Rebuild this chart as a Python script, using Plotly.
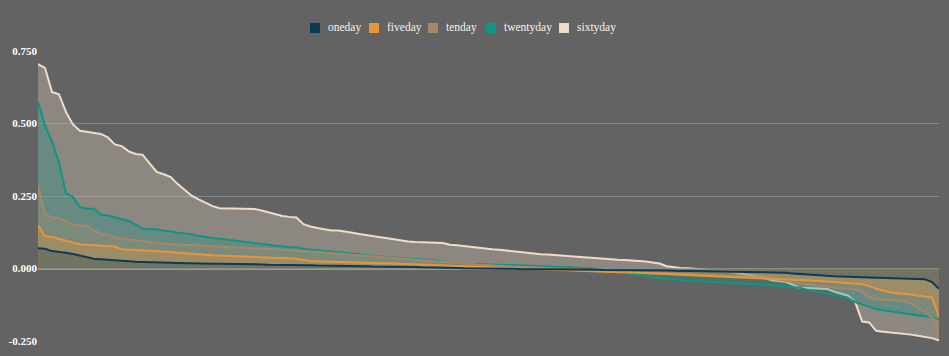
import plotly.graph_objects as go

series_names = ["oneday", "fiveday", "tenday", "twentyday", "sixtyday"]

oneday = [0.070, 0.068, 0.060, 0.058, 0.054, 0.050, 0.045, 0.040, 0.034, 0.032,
          0.030, 0.027, 0.026, 0.025, 0.023, 0.022, 0.022, 0.021, 0.021, 0.020,
          0.019, 0.018, 0.017, 0.017, 0.017, 0.016, 0.016, 0.016, 0.015, 0.015,
          0.014, 0.014, 0.014, 0.013, 0.013, 0.012, 0.012, 0.012, 0.011, 0.011,
          0.010, 0.010, 0.010, 0.009, 0.009, 0.009, 0.008, 0.008, 0.007, 0.007,
          0.007, 0.006, 0.006, 0.005, 0.005, 0.004, 0.004, 0.003, 0.003, 0.002,
          0.002, 0.001, 0.001, 0.001, 0.000, 0.000, -0.001, -0.001, -0.001, -0.002,
          -0.002, -0.002, -0.002, -0.003, -0.003, -0.003, -0.003, -0.004, -0.004, -0.004,
          -0.004, -0.005, -0.005, -0.005, -0.005, -0.005, -0.006, -0.006, -0.006, -0.007,
          -0.007, -0.008, -0.008, -0.009, -0.009, -0.009, -0.010, -0.010, -0.010, -0.011,
          -0.011, -0.012, -0.012, -0.013, -0.013, -0.014, -0.014, -0.015, -0.017, -0.019,
          -0.021, -0.022, -0.024, -0.026, -0.027, -0.028, -0.028, -0.029, -0.030, -0.031,
          -0.032, -0.033, -0.034, -0.035, -0.035, -0.036, -0.036, -0.037, -0.047, -0.070]

fiveday = [0.149, 0.111, 0.109, 0.103, 0.096, 0.090, 0.083, 0.082, 0.081, 0.080,
           0.078, 0.076, 0.066, 0.065, 0.064, 0.063, 0.062, 0.060, 0.059, 0.057,
           0.054, 0.052, 0.050, 0.049, 0.047, 0.046, 0.045, 0.044, 0.042, 0.041,
           0.039, 0.038, 0.037, 0.036, 0.035, 0.034, 0.034, 0.034, 0.030, 0.026,
           0.025, 0.024, 0.024, 0.023, 0.022, 0.021, 0.021, 0.020, 0.019, 0.018,
           0.018, 0.017, 0.016, 0.015, 0.015, 0.014, 0.013, 0.012, 0.011, 0.010,
           0.009, 0.009, 0.008, 0.007, 0.006, 0.005, 0.004, 0.003, 0.002, 0.001,
           0.000, -0.002, -0.004, -0.005, -0.006, -0.007, -0.008, -0.009, -0.010, -0.011,
           -0.012, -0.012, -0.013, -0.013, -0.013, -0.014, -0.015, -0.016, -0.017, -0.018,
           -0.019, -0.020, -0.021, -0.022, -0.023, -0.024, -0.025, -0.026, -0.027, -0.028,
           -0.029, -0.030, -0.031, -0.032, -0.033, -0.035, -0.036, -0.037, -0.038, -0.039,
           -0.040, -0.041, -0.043, -0.045, -0.047, -0.049, -0.050, -0.052, -0.054, -0.060,
           -0.070, -0.076, -0.082, -0.085, -0.087, -0.090, -0.094, -0.097, -0.100, -0.168]

tenday = [0.287, 0.186, 0.177, 0.172, 0.164, 0.152, 0.149, 0.147, 0.131, 0.120,
          0.116, 0.108, 0.103, 0.101, 0.097, 0.095, 0.091, 0.088, 0.085, 0.084,
          0.083, 0.081, 0.080, 0.079, 0.078, 0.077, 0.076, 0.075, 0.074, 0.073,
          0.072, 0.071, 0.070, 0.068, 0.066, 0.064, 0.063, 0.062, 0.060, 0.059,
          0.057, 0.055, 0.053, 0.051, 0.049, 0.047, 0.045, 0.043, 0.041, 0.039,
          0.037, 0.035, 0.033, 0.031, 0.029, 0.028, 0.026, 0.024, 0.022, 0.020,
          0.018, 0.016, 0.015, 0.013, 0.012, 0.010, 0.009, 0.008, 0.007, 0.006,
          0.005, 0.004, 0.003, 0.002, 0.001, 0.000, -0.001, -0.002, -0.003, -0.004,
          -0.005, -0.006, -0.007, -0.008, -0.009, -0.010, -0.011, -0.012, -0.013, -0.014,
          -0.015, -0.016, -0.017, -0.018, -0.019, -0.020, -0.021, -0.022, -0.023, -0.024,
          -0.025, -0.026, -0.028, -0.030, -0.032, -0.035, -0.038, -0.042, -0.046, -0.052,
          -0.055, -0.058, -0.061, -0.064, -0.067, -0.069, -0.070, -0.072, -0.080, -0.100,
          -0.105, -0.107, -0.109, -0.111, -0.113, -0.120, -0.134, -0.150, -0.170, -0.232]

twentyday = [0.575, 0.492, 0.439, 0.367, 0.260, 0.247, 0.212, 0.206, 0.206, 0.186,
             0.183, 0.177, 0.169, 0.164, 0.151, 0.137, 0.136, 0.135, 0.130, 0.128,
             0.123, 0.120, 0.118, 0.112, 0.108, 0.105, 0.103, 0.100, 0.097, 0.094,
             0.090, 0.086, 0.083, 0.080, 0.078, 0.076, 0.074, 0.073, 0.067, 0.065,
             0.063, 0.061, 0.058, 0.055, 0.053, 0.051, 0.049, 0.046, 0.043, 0.041,
             0.039, 0.037, 0.035, 0.033, 0.032, 0.030, 0.029, 0.028, 0.022, 0.018,
             0.017, 0.016, 0.016, 0.015, 0.014, 0.014, 0.013, 0.012, 0.012, 0.011,
             0.010, 0.009, 0.008, 0.007, 0.006, 0.005, 0.004, 0.003, 0.002, 0.001,
             -0.003, -0.006, -0.009, -0.012, -0.016, -0.020, -0.022, -0.026, -0.030, -0.033,
             -0.036, -0.039, -0.040, -0.042, -0.043, -0.044, -0.045, -0.046, -0.047, -0.048,
             -0.050, -0.051, -0.053, -0.054, -0.056, -0.058, -0.060, -0.062, -0.064, -0.066,
             -0.072, -0.077, -0.082, -0.087, -0.091, -0.096, -0.102, -0.116, -0.124, -0.132,
             -0.140, -0.144, -0.148, -0.151, -0.154, -0.158, -0.162, -0.165, -0.168, -0.175]

sixtyday = [0.705, 0.692, 0.609, 0.601, 0.540, 0.497, 0.475, 0.472, 0.469, 0.464,
            0.452, 0.428, 0.422, 0.404, 0.395, 0.392, 0.362, 0.333, 0.325, 0.315,
            0.291, 0.270, 0.251, 0.238, 0.226, 0.215, 0.208, 0.207, 0.207, 0.206,
            0.206, 0.205, 0.200, 0.193, 0.188, 0.181, 0.178, 0.176, 0.153, 0.145,
            0.140, 0.136, 0.131, 0.131, 0.128, 0.123, 0.119, 0.116, 0.112, 0.108,
            0.104, 0.100, 0.095, 0.093, 0.091, 0.091, 0.090, 0.089, 0.088, 0.082,
            0.080, 0.077, 0.075, 0.072, 0.069, 0.066, 0.065, 0.062, 0.059, 0.057,
            0.054, 0.051, 0.049, 0.048, 0.046, 0.044, 0.042, 0.040, 0.038, 0.036,
            0.035, 0.033, 0.031, 0.030, 0.029, 0.028, 0.026, 0.024, 0.021, 0.017,
            0.008, 0.004, 0.002, 0.001, 0.000, -0.003, -0.005, -0.006, -0.008, -0.012,
            -0.016, -0.020, -0.024, -0.027, -0.031, -0.041, -0.044, -0.046, -0.055, -0.066,
            -0.067, -0.068, -0.069, -0.071, -0.080, -0.087, -0.094, -0.116, -0.183, -0.186,
            -0.215, -0.218, -0.220, -0.222, -0.225, -0.228, -0.232, -0.236, -0.240, -0.248]

y_ticks = [-0.25, 0.0, 0.25, 0.5, 0.75]
y_tick_labels = ["-0.250", "0.000", "0.250", "0.500", "0.750"]

colors = {
    "oneday": "#0d3b57",
    "fiveday": "#e8953a",
    "tenday": "#a88769",
    "twentyday": "#0f9585",
    "sixtyday": "#f0dccb",
}
fills = {
    "oneday": "rgba(13,59,87,0.30)",
    "fiveday": "rgba(232,149,58,0.30)",
    "tenday": "rgba(168,135,105,0.30)",
    "twentyday": "rgba(15,149,133,0.30)",
    "sixtyday": "rgba(240,220,203,0.30)",
}
data = {"oneday": oneday, "fiveday": fiveday, "tenday": tenday,
        "twentyday": twentyday, "sixtyday": sixtyday}

x = list(range(len(oneday)))

fig = go.Figure()
for name in ["sixtyday", "twentyday", "tenday", "fiveday", "oneday"]:
    fig.add_trace(go.Scatter(
        x=x, y=data[name], mode="lines", fill="tozeroy", name=name,
        fillcolor=fills[name], line=dict(color=colors[name], width=2),
        showlegend=False, hoverinfo="skip"))

# manual legend (tight symbol/text spacing like the reference)
W, H = 949, 356
L, R, T, B = 38, 10, 51, 15
pw, ph = W - L - R, H - T - B


def px_to_paper_x(px):
    return (px - L) / pw


def py_to_paper_y(py):
    return (H - B - py) / ph


legend_square_px = [310, 369, 428, 486, 559]
legend_text_px = [326, 385, 444, 502, 575]
legend_y_px = 28
shapes = []
annotations = []
for name, sx, tx in zip(series_names, legend_square_px, legend_text_px):
    shapes.append(dict(
        type="rect", xref="paper", yref="paper",
        x0=px_to_paper_x(sx), x1=px_to_paper_x(sx + 10),
        y0=py_to_paper_y(legend_y_px + 5), y1=py_to_paper_y(legend_y_px - 5),
        fillcolor=colors[name], line=dict(width=0)))
    annotations.append(dict(
        text=name, xref="paper", yref="paper",
        x=px_to_paper_x(tx), y=py_to_paper_y(legend_y_px),
        xanchor="left", yanchor="middle", showarrow=False,
        font=dict(family="Liberation Serif, serif", size=11.5, color="#f2f2f2")))

fig.update_layout(
    width=W, height=H,
    paper_bgcolor="#636363", plot_bgcolor="#636363",
    margin=dict(l=L, r=R, t=T, b=B, autoexpand=False),
    font=dict(family="Liberation Serif, serif", color="#f2f2f2", size=11),
    showlegend=False,
    hovermode=False,
    shapes=shapes,
    annotations=annotations,
    xaxis=dict(range=[0, len(oneday) - 1], showgrid=False, zeroline=False,
               showticklabels=False, showline=False, ticks="", automargin=False),
    yaxis=dict(range=[-0.25, 0.75], tickvals=y_ticks, ticktext=y_tick_labels,
               showgrid=True, gridcolor="#858585", gridwidth=1,
               zeroline=True, zerolinecolor="#9a9a9a", zerolinewidth=2,
               tickfont=dict(size=11, color="#ffffff", weight="bold"),
               ticks="", showline=False, automargin=False),
)

fig.write_html(
    "out.html",
    config={"displayModeBar": False},
    post_script="document.body.style.margin='0px';"
                "document.body.style.background='#636363';")
